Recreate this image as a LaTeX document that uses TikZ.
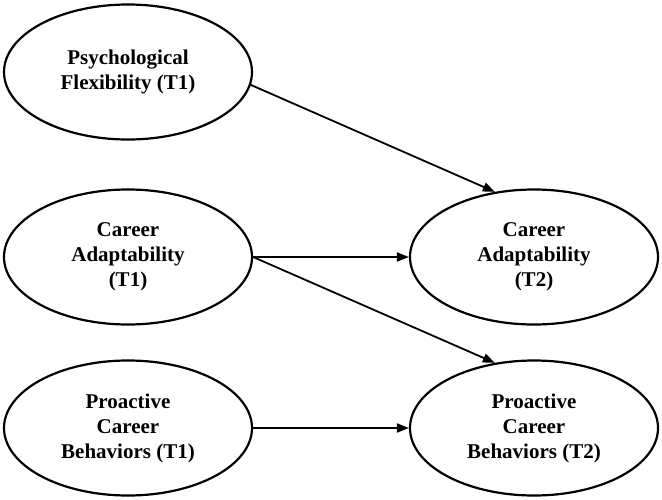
\documentclass[tikz,border=0pt]{standalone}
\usepackage{fontspec}
\setmainfont{Liberation Serif}
\usetikzlibrary{shapes.geometric,arrows.meta}
\begin{document}
\begin{tikzpicture}[x=1pt,y=-1pt,
  latent/.style={draw, ellipse, line width=2.2pt, minimum width=248pt, minimum height=135pt, inner sep=0pt, align=center, font=\bfseries\fontsize{21}{25}\selectfont},
  >={Triangle[length=12pt,width=9pt]}]
\useasboundingbox (0,0) rectangle (662,499);
\node[latent] (pf1) at (128,72) {Psychological\\Flexibility (T1)};
\node[latent] (ca1) at (128,257) {Career\\Adaptability\\(T1)};
\node[latent] (pcb1) at (128,428) {Proactive\\Career\\Behaviors (T1)};
\node[latent] (ca2) at (534,257) {Career\\Adaptability\\(T2)};
\node[latent] (pcb2) at (534,428) {Proactive\\Career\\Behaviors (T2)};
\draw[->, line width=1.8pt] (pf1.-6) -- (ca2.121);
\draw[->, line width=1.8pt] (ca1.east) -- (ca2.west);
\draw[->, line width=1.8pt] (ca1.east) -- (pcb2.121);
\draw[->, line width=1.8pt] (pcb1.east) -- (pcb2.west);
\end{tikzpicture}
\end{document}
